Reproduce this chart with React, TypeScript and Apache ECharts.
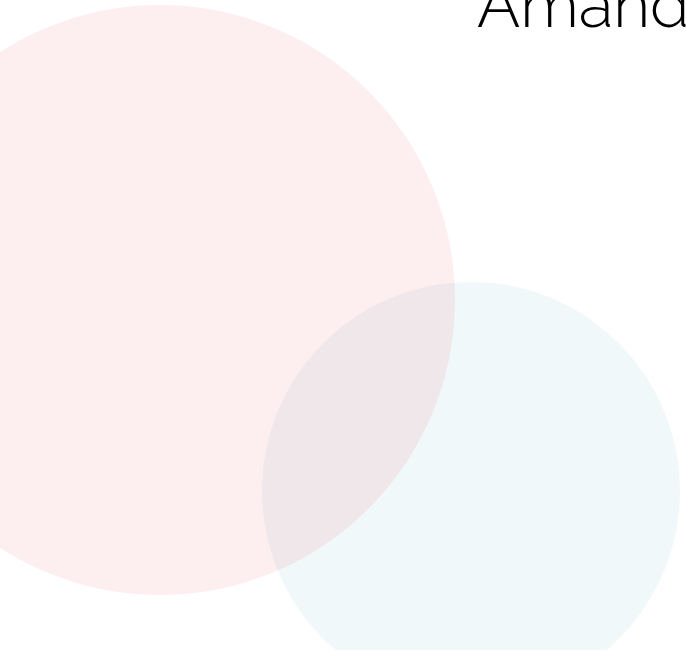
import React, { useEffect, useRef } from "react";
import * as echarts from "echarts";

// Venn-style sets: centre (x, y) in chart units and diameter
const setNames = ["Blue set", "Pink set"];
const centerX = [471, 160];
const centerY = [491, 300];
const diameters = [418, 590];
const setColors = ["rgba(142,195,208,0.15)", "rgba(238,108,122,0.14)"];
const titleText = "Amanda";

export default function App() {
  const ref = useRef<HTMLDivElement>(null);
  useEffect(() => {
    if (!ref.current) return;
    const chart = echarts.init(ref.current, undefined, { renderer: "svg" });
    chart.setOption({
      animation: false,
      backgroundColor: "#ffffff",
      title: {
        text: titleText,
        left: 477,
        top: -28,
        padding: 0,
        textStyle: {
          fontFamily: "Raleway, Lato, 'Open Sans', sans-serif",
          fontWeight: 300,
          fontSize: 64,
          color: "#000000",
        },
      },
      grid: { left: 0, right: 0, top: 0, bottom: 0 },
      xAxis: { type: "value", min: 0, max: 686, show: false },
      yAxis: { type: "value", min: 0, max: 650, inverse: true, show: false },
      series: setNames.map((name, i) => ({
        type: "scatter",
        name,
        clip: false,
        symbol: "circle",
        symbolSize: diameters[i],
        itemStyle: { color: setColors[i] },
        silent: true,
        data: [[centerX[i], centerY[i]]],
      })),
    });
    return () => chart.dispose();
  }, []);
  return (
    <div
      ref={ref}
      style={{ position: "absolute", left: 0, top: 0, width: 686, height: 650 }}
    />
  );
}
